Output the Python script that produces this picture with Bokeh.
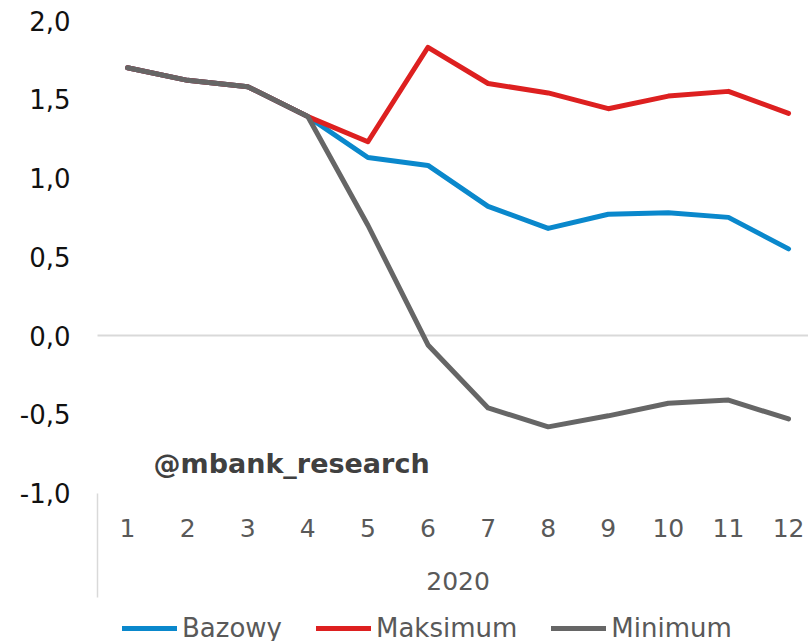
from bokeh.plotting import figure
from bokeh.models import (FixedTicker, CustomJSTickFormatter, Legend, LegendItem, Label,
                          Range1d, LinearAxis)
from bokeh.embed import file_html
from bokeh.resources import INLINE

# ---- data ----
months = [1, 2, 3, 4, 5, 6, 7, 8, 9, 10, 11, 12]
bazowy = [1.70, 1.62, 1.58, 1.39, 1.13, 1.08, 0.82, 0.68, 0.77, 0.78, 0.75, 0.55]
maksimum = [1.70, 1.62, 1.58, 1.39, 1.23, 1.83, 1.60, 1.54, 1.44, 1.52, 1.55, 1.41]
minimum = [1.70, 1.62, 1.58, 1.39, 0.70, -0.06, -0.46, -0.58, -0.51, -0.43, -0.41, -0.53]
y_ticks = [-1.0, -0.5, 0.0, 0.5, 1.0, 1.5, 2.0]
year_label = "2020"
series_names = ["Bazowy", "Maksimum", "Minimum"]
watermark = "@mbank_research"

BLUE = "#0a88cc"
RED = "#dd2020"
GRAY = "#666666"
GRID = "#d9d9d9"
FONT = "DejaVu Sans"

# ---- layout (pixel geometry of the canvas) ----
W, H = 808, 641
PX_LEFT = 97.0      # pixel of the category-axis start (x = 0.5)
PX_PER_X = 60.09    # pixels per category
PX_ZERO = 335.0     # pixel row of y = 0
PX_PER_Y = 157.5    # pixels per unit of y

def px_to_x(px):
    return 0.5 + (px - PX_LEFT) / PX_PER_X

def px_to_y(py):
    return (PX_ZERO - py) / PX_PER_Y

x_start, x_end = px_to_x(0), px_to_x(W)
y_start, y_end = px_to_y(H), px_to_y(0)
axis_min = min(y_ticks)
cat_start = 0.5

p = figure(width=W, height=H, output_backend="svg", toolbar_location=None,
           x_range=Range1d(x_start, x_end), y_range=Range1d(y_start, y_end),
           min_border=0, min_border_left=0, min_border_right=0,
           min_border_top=0, min_border_bottom=0)
p.outline_line_color = None
p.background_fill_color = "white"
p.border_fill_color = "white"
p.xgrid.grid_line_color = None
p.ygrid.grid_line_color = None

# y axis (value axis) at the start of the category axis
ya = p.yaxis[0]
ya.fixed_location = cat_start
ya.ticker = FixedTicker(ticks=y_ticks)
ya.formatter = CustomJSTickFormatter(code="return tick.toFixed(1).replace('.', ',');")
ya.axis_line_color = None
ya.major_tick_line_color = None
ya.minor_tick_line_color = None
ya.major_tick_out = 0
ya.major_tick_in = 0
ya.minor_tick_out = 0
ya.minor_tick_in = 0
ya.major_label_standoff = 27
ya.major_label_text_font = FONT
ya.major_label_text_font_size = "26px"
ya.major_label_text_color = "#111111"

# x axis (categories) at the bottom of the value axis
xa = p.xaxis[0]
xa.fixed_location = axis_min
xa.ticker = FixedTicker(ticks=months)
xa.axis_line_color = None
xa.major_tick_line_color = None
xa.minor_tick_line_color = None
xa.major_tick_out = 0
xa.major_tick_in = 0
xa.minor_tick_out = 0
xa.minor_tick_in = 0
xa.major_label_standoff = 26
xa.major_label_text_font = FONT
xa.major_label_text_font_size = "25px"
xa.major_label_text_color = "#595959"

# zero line (horizontal, from category start to the right)
zero_axis = LinearAxis(fixed_location=0.0, bounds=(cat_start, x_end),
                       ticker=FixedTicker(ticks=[]), axis_line_color=GRID,
                       axis_line_width=2, major_tick_line_color=None,
                       minor_tick_line_color=None, major_label_text_font_size="0px",
                       level="underlay")
p.add_layout(zero_axis, "below")

# separator line below the category axis
sep_axis = LinearAxis(fixed_location=cat_start, bounds=(px_to_y(597), axis_min),
                      ticker=FixedTicker(ticks=[]), axis_line_color=GRID,
                      axis_line_width=1.5, major_tick_line_color=None,
                      minor_tick_line_color=None, major_label_text_font_size="0px")
p.add_layout(sep_axis, "left")

lw = 5
r1 = p.line(months, bazowy, line_color=BLUE, line_width=lw, line_cap="round", line_join="round")
r2 = p.line(months, maksimum, line_color=RED, line_width=lw, line_cap="round", line_join="round")
r3 = p.line(months, minimum, line_color=GRAY, line_width=lw, line_cap="round", line_join="round")

legend = Legend(items=[LegendItem(label=series_names[0], renderers=[r1]),
                       LegendItem(label=series_names[1], renderers=[r2]),
                       LegendItem(label=series_names[2], renderers=[r3])],
                location=(122, -2), orientation="horizontal", padding=0, margin=0,
                spacing=34, glyph_width=55, glyph_height=20, label_standoff=5,
                label_text_font=FONT, label_text_font_size="26px",
                label_text_color="#595959", border_line_color=None,
                background_fill_alpha=0)
p.add_layout(legend)

p.add_layout(Label(x=6.5, y=px_to_y(580), text=year_label, text_align="center",
                   text_baseline="middle", text_font=FONT, text_font_size="25px",
                   text_color="#595959"))
p.add_layout(Label(x=px_to_x(153), y=px_to_y(463), text=watermark, text_align="left",
                   text_baseline="alphabetic", text_font=FONT, text_font_size="27px",
                   text_font_style="bold", text_color="#404040"))

open("out.html", "w").write(file_html(p, INLINE))
